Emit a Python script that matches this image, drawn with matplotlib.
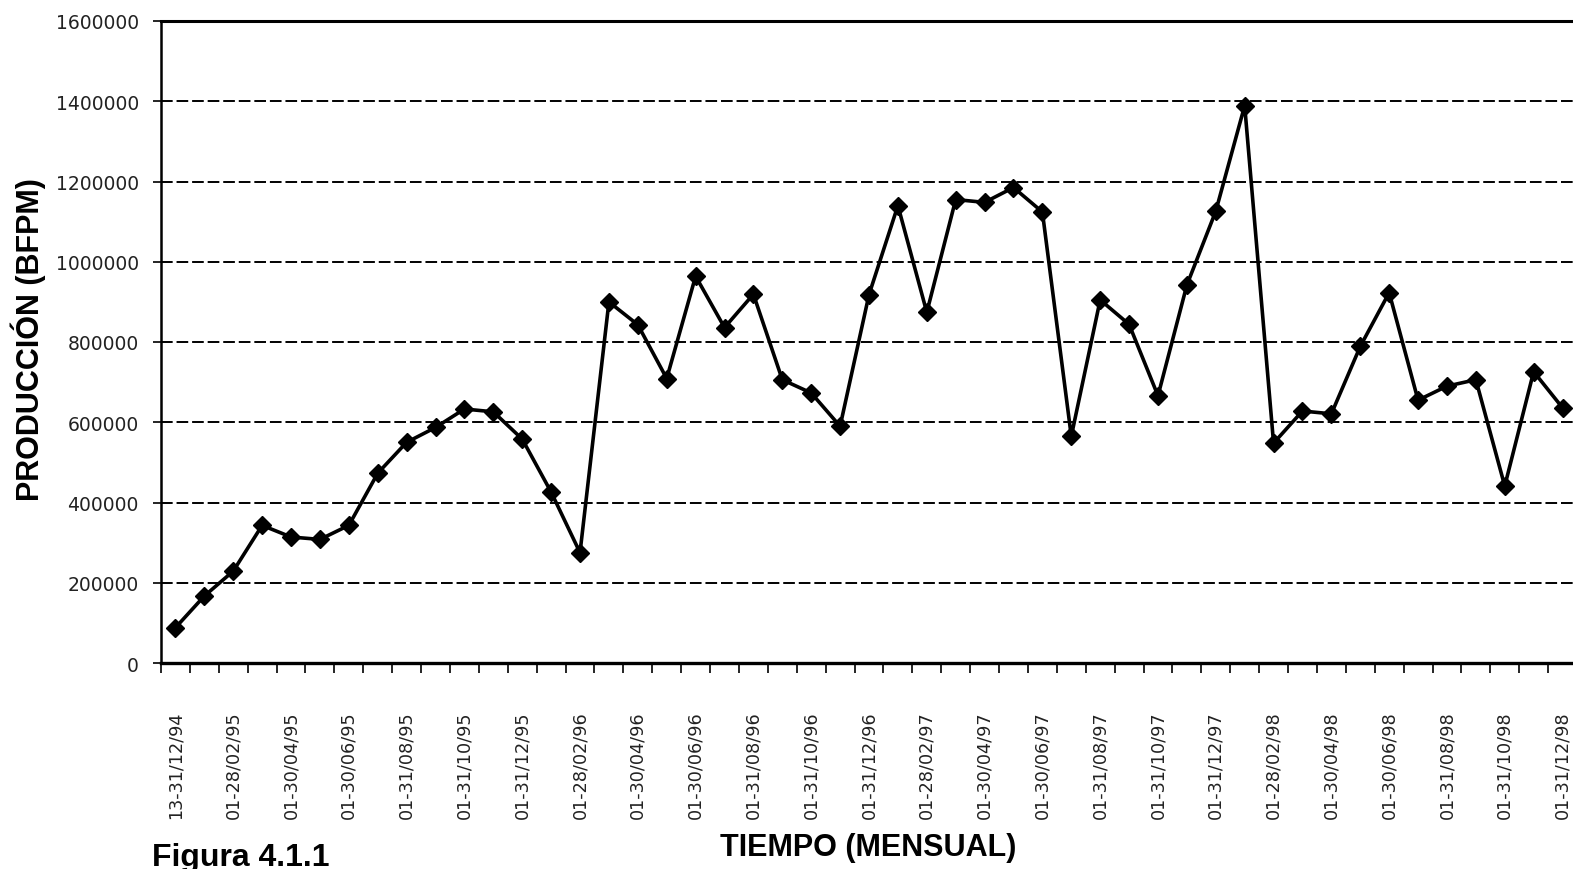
import matplotlib
matplotlib.use('Agg')
import matplotlib.pyplot as plt
from matplotlib.ticker import FixedLocator, NullFormatter

# monthly production, Dec 1994 .. Dec 1998 (BFPM)
produccion = [
    88000, 167000, 229000, 343000, 314000, 308000, 343000, 473000, 550000, 587000,
    633000, 626000, 558000, 426000, 275000,
    900000, 843000, 709000, 964000, 836000, 919000, 706000, 673000, 590000,
    918000, 1140000, 874000, 1155000, 1148000, 1185000, 1124000,
    565000, 905000, 844000, 666000, 942000, 1126000, 1389000,
    548000, 628000, 621000, 789000, 923000, 655000, 690000, 706000, 441000, 726000, 636000,
]

etiquetas = [
    "13-31/12/94", "01-28/02/95", "01-30/04/95", "01-30/06/95", "01-31/08/95",
    "01-31/10/95", "01-31/12/95", "01-28/02/96", "01-30/04/96", "01-30/06/96",
    "01-31/08/96", "01-31/10/96", "01-31/12/96", "01-28/02/97", "01-30/04/97",
    "01-30/06/97", "01-31/08/97", "01-31/10/97", "01-31/12/97", "01-28/02/98",
    "01-30/04/98", "01-30/06/98", "01-31/08/98", "01-31/10/98", "01-31/12/98",
]

y_ticks = [0, 200000, 400000, 600000, 800000, 1000000, 1200000, 1400000, 1600000]

W, H = 1573, 870
fig = plt.figure(figsize=(W / 100, H / 100), dpi=100)
ax = fig.add_axes([161 / W, 1 - 664 / H, (1577 - 161) / W, (664 - 22) / H])

x = list(range(len(produccion)))
ax.plot(x, produccion, color='black', lw=2.6, marker='D', markersize=8.8,
        markerfacecolor='black', markeredgecolor='black', zorder=3)

ax.set_xlim(-0.5, len(produccion) - 0.5)
ax.set_ylim(0, 1600000)

# y axis
ax.set_yticks(y_ticks)
ax.set_yticklabels([str(v) for v in y_ticks], fontsize=13.5, color='#222222',
                   family='DejaVu Sans')
ax.tick_params(axis='y', direction='out', length=6, width=1.2, pad=10)
ax.yaxis.grid(True, color='black', lw=1.4, linestyle=(0, (6, 2)))
ax.set_axisbelow(True)

# x axis: ticks between months, labels every two months
ax.xaxis.set_major_locator(FixedLocator([i + 0.5 for i in range(-1, len(produccion))]))
ax.xaxis.set_major_formatter(NullFormatter())
ax.tick_params(axis='x', which='major', direction='out', length=7, width=1.2)
ax.xaxis.set_minor_locator(FixedLocator(list(range(0, len(produccion), 2))))
ax.set_xticklabels(etiquetas, minor=True, rotation=90, fontsize=12.7,
                   color='#222222', family='DejaVu Sans', va='top')
ax.tick_params(axis='x', which='minor', length=0, pad=34)

for side in ['top', 'left', 'bottom', 'right']:
    ax.spines[side].set_color('black')
ax.spines['top'].set_linewidth(2.2)
ax.spines['left'].set_linewidth(1.8)
ax.spines['bottom'].set_linewidth(2.4)

fig.text(28 / W, 1 - 340 / H, "PRODUCCIÓN (BFPM)", rotation=90, ha='center',
         va='center', fontsize=22, fontweight='bold', family='Liberation Sans')
fig.text(868 / W, 1 - 848 / H, "TIEMPO (MENSUAL)", ha='center', va='center',
         fontsize=22, fontweight='bold', family='Liberation Sans')
fig.text(152 / W, 1 - 866 / H, "Figura 4.1.1", ha='left', va='baseline',
         fontsize=23, fontweight='bold', family='Liberation Sans')

fig.savefig('out.png', dpi=100)
